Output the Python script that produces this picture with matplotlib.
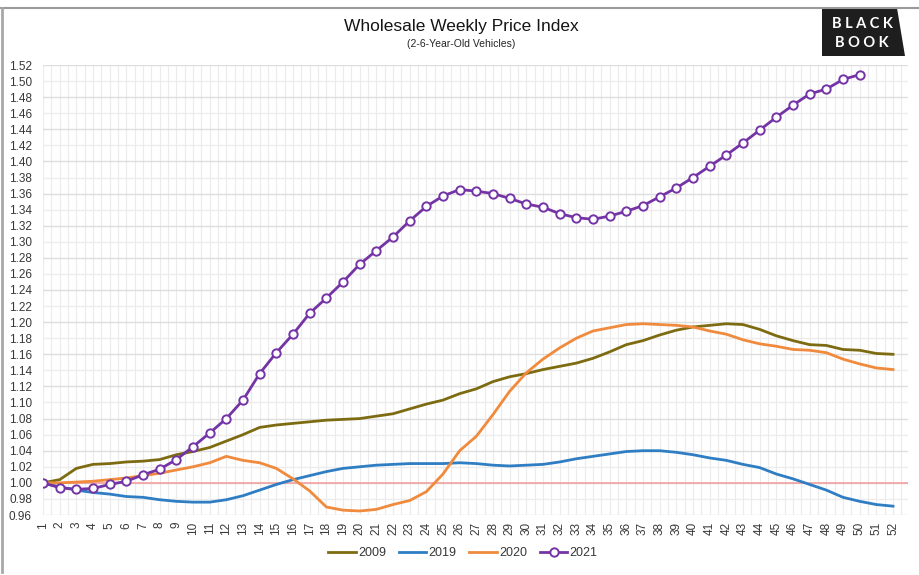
import matplotlib
matplotlib.use("Agg")
import matplotlib.pyplot as plt
from matplotlib.patches import Polygon
from matplotlib.lines import Line2D
import numpy as np

weeks = list(range(1, 53))
y_ticks = [0.96, 0.98, 1.00, 1.02, 1.04, 1.06, 1.08, 1.10, 1.12, 1.14, 1.16, 1.18,
           1.20, 1.22, 1.24, 1.26, 1.28, 1.30, 1.32, 1.34, 1.36, 1.38, 1.40, 1.42,
           1.44, 1.46, 1.48, 1.50, 1.52]

s2009 = [1.000, 1.004, 1.018, 1.023, 1.024, 1.026, 1.027, 1.029, 1.035, 1.039,
         1.044, 1.052, 1.060, 1.069, 1.072, 1.074, 1.076, 1.078, 1.079, 1.080,
         1.083, 1.086, 1.092, 1.098, 1.103, 1.111, 1.117, 1.126, 1.132, 1.136,
         1.141, 1.145, 1.149, 1.155, 1.163, 1.172, 1.177, 1.184, 1.190, 1.194,
         1.196, 1.198, 1.197, 1.191, 1.183, 1.177, 1.172, 1.171, 1.166, 1.165,
         1.161, 1.160]

s2019 = [1.000, 0.995, 0.991, 0.988, 0.986, 0.983, 0.982, 0.979, 0.977, 0.976,
         0.976, 0.979, 0.984, 0.991, 0.998, 1.004, 1.009, 1.014, 1.018, 1.020,
         1.022, 1.023, 1.024, 1.024, 1.024, 1.025, 1.024, 1.022, 1.021, 1.022,
         1.023, 1.026, 1.030, 1.033, 1.036, 1.039, 1.040, 1.040, 1.038, 1.035,
         1.031, 1.028, 1.023, 1.019, 1.011, 1.005, 0.998, 0.991, 0.982, 0.977,
         0.973, 0.971]

s2020 = [1.000, 1.000, 1.001, 1.002, 1.004, 1.006, 1.009, 1.012, 1.016, 1.020,
         1.025, 1.033, 1.028, 1.025, 1.018, 1.005, 0.990, 0.970, 0.966, 0.965,
         0.967, 0.973, 0.978, 0.989, 1.011, 1.040, 1.058, 1.085, 1.114, 1.137,
         1.154, 1.168, 1.180, 1.189, 1.193, 1.197, 1.198, 1.197, 1.196, 1.194,
         1.189, 1.185, 1.178, 1.173, 1.170, 1.166, 1.165, 1.162, 1.154, 1.148,
         1.143, 1.141]

s2021 = [1.000, 0.994, 0.992, 0.993, 0.998, 1.002, 1.010, 1.017, 1.029, 1.045,
         1.062, 1.080, 1.103, 1.136, 1.162, 1.185, 1.211, 1.230, 1.250, 1.272,
         1.289, 1.306, 1.326, 1.344, 1.357, 1.365, 1.363, 1.360, 1.354, 1.347,
         1.343, 1.335, 1.330, 1.328, 1.332, 1.338, 1.345, 1.356, 1.367, 1.380,
         1.394, 1.408, 1.423, 1.439, 1.455, 1.470, 1.484, 1.490, 1.502, 1.508]

series_names = ["2009", "2019", "2020", "2021"]
colors = {"2009": "#7d6b12", "2019": "#2f7dc3", "2020": "#f08a3c", "2021": "#7434a6"}

fig = plt.figure(figsize=(9.2, 5.75), dpi=100)
ax = fig.add_axes([43/920, 1-515/575, (908-43)/920, (515-65)/575])

ax.set_xlim(1, 52.9)
ax.set_ylim(0.96, 1.52)

# grid
for x in np.arange(1, 53.01, 0.5):
    ax.axvline(x, color="#ebebeb", lw=0.8, zorder=0)
for i, y in enumerate(y_ticks):
    ax.axhline(y, color="#dedede" if i % 2 == 0 else "#ececec", lw=1.0, zorder=0)

ax.axhline(1.00, color="#f49a9a", lw=1.1, zorder=1)

ax.plot(weeks, s2009, color=colors["2009"], lw=2.0, zorder=3)
ax.plot(weeks, s2019, color=colors["2019"], lw=2.0, zorder=3)
ax.plot(weeks, s2020, color=colors["2020"], lw=2.0, zorder=3)
ax.plot(weeks[:len(s2021)], s2021, color=colors["2021"], lw=2.0, zorder=4,
        marker="o", markersize=6, markerfacecolor="white",
        markeredgecolor=colors["2021"], markeredgewidth=1.4)

for sp in ax.spines.values():
    sp.set_visible(False)
ax.set_yticks(y_ticks)
ax.set_yticklabels([f"{v:.2f}" for v in y_ticks])
ax.set_xticks(weeks)
ax.set_xticklabels([str(w) for w in weeks], rotation=90)
ax.tick_params(axis="both", length=0, labelsize=8.5, colors="#383838")
ax.tick_params(axis="y", pad=8)
ax.tick_params(axis="x", pad=5)
for lbl in ax.get_xticklabels() + ax.get_yticklabels():
    lbl.set_family(["Liberation Sans", "DejaVu Sans"])

# title
fig.text(461/920, 1-27/575, "Wholesale Weekly Price Index", ha="center", va="center",
         fontsize=12.5, family=["Liberation Sans Narrow", "Liberation Sans", "DejaVu Sans"],
         color="#151515")
fig.text(461/920, 1-44/575, "(2-6-Year-Old Vehicles)", ha="center", va="center",
         fontsize=7.5, family=["Liberation Sans Narrow", "Liberation Sans", "DejaVu Sans"],
         color="#252525")

# logo
logo = Polygon([(822/920, 1-8/575), (897/920, 1-8/575), (905/920, 1-56/575), (822/920, 1-56/575)],
               closed=True, transform=fig.transFigure, facecolor="#1e1e1e", edgecolor="none")
fig.patches.append(logo)
fig.text(862/920, 1-24/575, "B L A C K", ha="center", va="center", fontsize=10.5,
         color="white", fontweight="bold", family=["Lato", "DejaVu Sans"])
fig.text(862/920, 1-43/575, "B O O K", ha="center", va="center", fontsize=10.5,
         color="white", fontweight="bold", family=["Lato", "DejaVu Sans"])

# frame lines
fig.lines.append(Line2D([0, 1], [1-8/575, 1-8/575], transform=fig.transFigure,
                        color="#9a9a9a", lw=1.5))
fig.lines.append(Line2D([2.5/920, 2.5/920], [1-8/575, 1-572/575], transform=fig.transFigure,
                        color="#a8a8a8", lw=2))

# legend
handles = [Line2D([], [], color=colors[n], lw=2.0) for n in series_names[:3]]
handles.append(Line2D([], [], color=colors["2021"], lw=2.0, marker="o", markersize=6,
                      markerfacecolor="white", markeredgecolor=colors["2021"], markeredgewidth=1.4))
leg = fig.legend(handles, series_names, loc="center", bbox_to_anchor=(463/920, 1-553/575),
                 ncol=4, frameon=False, handlelength=2.2, handletextpad=0.2,
                 columnspacing=1.0, prop={"family": ["Liberation Sans", "DejaVu Sans"], "size": 9})
for t in leg.get_texts():
    t.set_color("#383838")

fig.savefig("out.png", dpi=100, facecolor="white")
